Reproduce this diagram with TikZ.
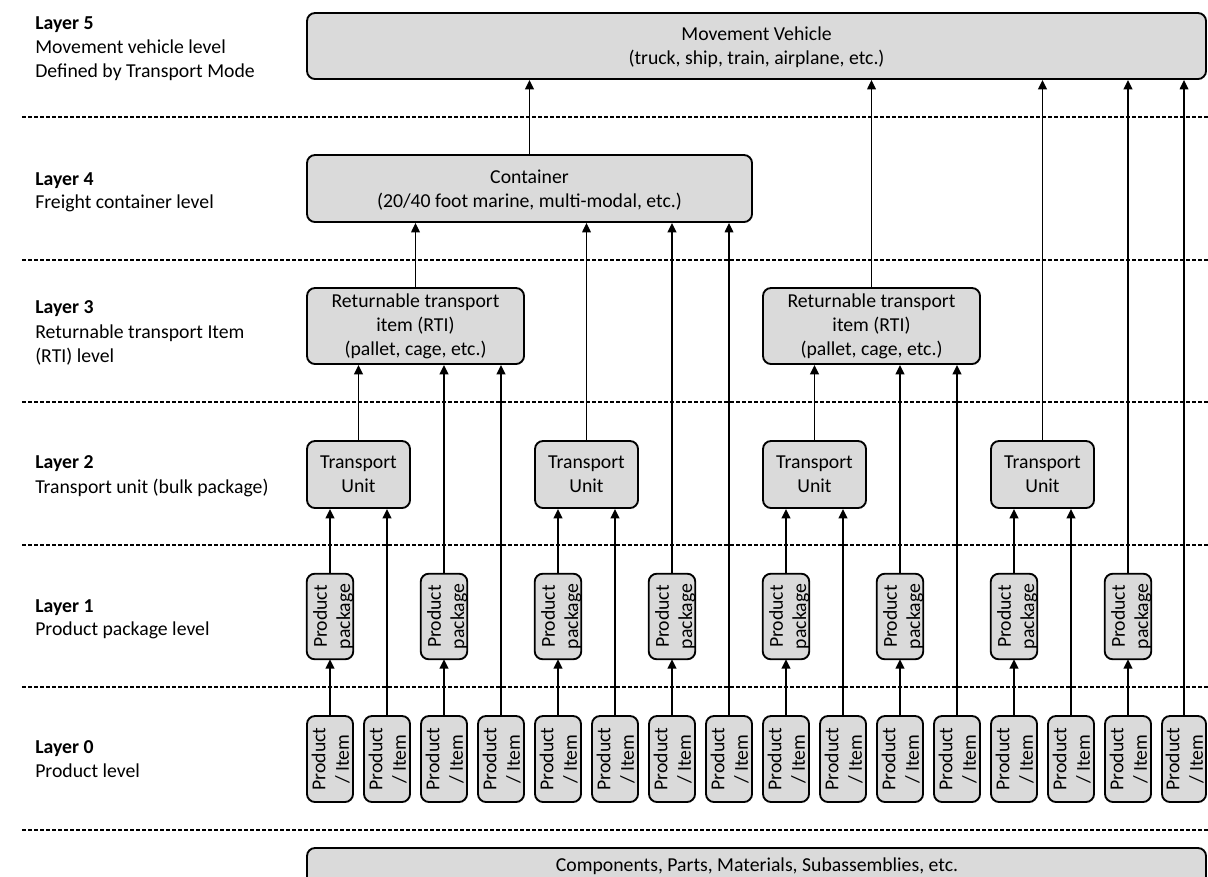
\documentclass[tikz,border=0pt]{standalone}
\usepackage{fontspec}
\setmainfont{Carlito}
\usetikzlibrary{fit,arrows.meta}
\definecolor{boxgray}{RGB}{218,218,218}
\begin{document}
\begin{tikzpicture}[x=0.75pt,y=-0.75pt,
  lvbox/.style={draw=black, line width=1.4pt, fill=boxgray, rounded corners=6pt, inner sep=0pt},
  lvfill/.style={draw=none, fill=boxgray, rounded corners=6pt, inner sep=0pt},
  boxtext/.style={align=center, inner sep=0pt, font=\fontsize{14.8}{18}\selectfont},
  rottext/.style={rotate=90, align=center, inner sep=0pt, font=\fontsize{14.8}{17.5}\selectfont},
  arr/.style={line width=1.4pt, -{Triangle[length=7pt,width=6.5pt]}},
  thinarr/.style={line width=0.9pt, -{Triangle[length=7pt,width=6.5pt]}},
  sepline/.style={line width=0.9pt, dash pattern=on 3pt off 1.5pt},
  lyr/.style={anchor=base west, inner sep=0pt, font=\fontsize{14.8}{18}\selectfont},
  lyrb/.style={anchor=base west, inner sep=0pt, font=\fontsize{14.8}{18}\selectfont\bfseries}]
\useasboundingbox (0,0) rectangle (1208,876);

% separators
\foreach \y in {117,260,402,545,687,830} \draw[sepline] (22,\y) -- (1208,\y);

% layer labels
\node[lyrb] (l5a) at (35,29) {Layer 5};
\node[lyr] (l5b) at (35,53) {Movement vehicle level};
\node[lyr] (l5c) at (35,77) {Defined by Transport Mode};
\node[lyrb] (l4a) at (35,185) {Layer 4};
\node[lyr] (l4b) at (35,208) {Freight container level};
\node[lyrb] (l3a) at (35,313) {Layer 3};
\node[lyr] (l3b) at (35,338) {Returnable transport Item};
\node[lyr] (l3c) at (35,362) {(RTI) level};
\node[lyrb] (l2a) at (35,468) {Layer 2};
\node[lyr] (l2b) at (35,493) {Transport unit (bulk package)};
\node[lyrb] (l1a) at (35,612) {Layer 1};
\node[lyr] (l1b) at (35,635) {Product package level};
\node[lyrb] (l0a) at (35,753) {Layer 0};
\node[lyr] (l0b) at (35,777) {Product level};

% boxes
\node[lvbox, fit={(307,13) (1206,79)}] (mv) {};
\node[boxtext] (mvt) at ([yshift=-1pt]mv.center) {Movement Vehicle\\(truck, ship, train, airplane, etc.)};
\node[lvbox, fit={(307,155) (752,222)}] (ct) {};
\node[boxtext] (ctt) at ([yshift=-1pt]ct.center) {Container\\(20/40 foot marine, multi-modal, etc.)};
\node[lvbox, fit={(307,288) (524,364)}] (rl) {};
\node[boxtext] (rlt) at (rl.center) {Returnable transport\\item (RTI)\\(pallet, cage, etc.)};
\node[lvbox, fit={(763,288) (980,364)}] (rr) {};
\node[boxtext] (rrt) at (rr.center) {Returnable transport\\item (RTI)\\(pallet, cage, etc.)};
\foreach \k in {0,...,3}{
  \node[lvbox, fit={({307+228*\k},441) ({410+228*\k},508)}] (tu\k) {};
  \node[boxtext] (tut\k) at (tu\k.center) {Transport\\Unit};
}

\foreach \i in {0,...,15}{
  \node[lvbox, fit={({307+57*\i},716) ({min(353+57*\i,1206)},802)}] (it\i) {};
  \node[rottext] (itt\i) at ([xshift=0.5pt]it\i.center) {Product\\/ Item};
}

\foreach \i in {0,2,...,14}{
  \node[lvfill, fit={({307+57*\i},574) ({353+57*\i},659)}] (pk\i) {};
  \begin{scope}
    \clip[rounded corners=6pt] (pk\i.south west) rectangle (pk\i.north east);
    \node[rottext] (pkt\i) at ([xshift=2.5pt]pk\i.center) {Product\\package};
  \end{scope}
  \draw[line width=1.4pt, rounded corners=6pt] (pk\i.south west) rectangle (pk\i.north east);
}

\node[lvbox, fit={(307,848) (1206,900)}] (comp) {};
\node[boxtext] (compt) at (757,866) {Components, Parts, Materials, Subassemblies, etc.};

% connectors
\foreach \i in {0,2,...,14} \draw[arr] (it\i.north) -- (pk\i.south);
\foreach \i/\k in {1/0,5/1,9/2,13/3} \draw[arr] (it\i.north) -- (it\i.north |- tu\k.south);
\draw[arr] (it3.north) -- (it3.north |- rl.south);
\draw[arr] (it11.north) -- (it11.north |- rr.south);
\draw[thinarr] (it7.north) -- (it7.north |- ct.south);
\draw[thinarr] (it15.north) -- (it15.north |- mv.south);
\foreach \i/\k in {0/0,4/1,8/2,12/3} \draw[arr] (pk\i.north) -- (pk\i.north |- tu\k.south);
\draw[arr] (pk2.north) -- (pk2.north |- rl.south);
\draw[arr] (pk10.north) -- (pk10.north |- rr.south);
\draw[arr] (pk6.north) -- (pk6.north |- ct.south);
\draw[arr] (pk14.north) -- (pk14.north |- mv.south);
\draw[arr] (tu0.north) -- (tu0.north |- rl.south);
\draw[arr] (tu2.north) -- (tu2.north |- rr.south);
\draw[thinarr] (tu1.north) -- (tu1.north |- ct.south);
\draw[arr] (tu3.north) -- (tu3.north |- mv.south);
\draw[thinarr] (rl.north) -- (rl.north |- ct.south);
\draw[thinarr] (rr.north) -- (rr.north |- mv.south);
\draw[arr] (ct.north) -- (ct.north |- mv.south);
\end{tikzpicture}
\end{document}
